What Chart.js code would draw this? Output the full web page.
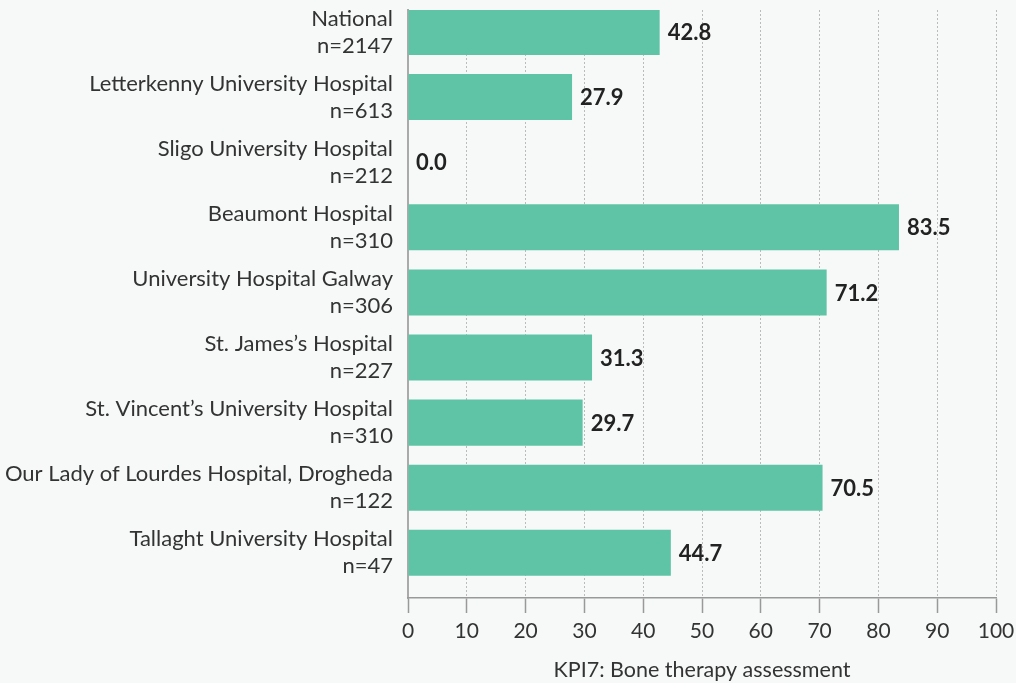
<!DOCTYPE html>
<html>
<head>
<meta charset="utf-8">
<script src="https://cdn.jsdelivr.net/npm/chart.js@4/dist/chart.umd.min.js"></script>
<style>
  html, body { margin: 0; padding: 0; background: #f6f9f8; }
  canvas { display: block; }
</style>
</head>
<body>
<canvas id="c" width="1016" height="683"></canvas>
<script>
const hospitals = [
  "National",
  "Letterkenny University Hospital",
  "Sligo University Hospital",
  "Beaumont Hospital",
  "University Hospital Galway",
  "St. James\u2019s Hospital",
  "St. Vincent\u2019s University Hospital",
  "Our Lady of Lourdes Hospital, Drogheda",
  "Tallaght University Hospital"
];
const sampleSizes = [2147, 613, 212, 310, 306, 227, 310, 122, 47];
const kpiValues = [42.8, 27.9, 0.0, 83.5, 71.2, 31.3, 29.7, 70.5, 44.7];
const xTicks = [0, 10, 20, 30, 40, 50, 60, 70, 80, 90, 100];
const axisTitle = "KPI7: Bone therapy assessment";

const FONT = "Lato, 'Open Sans', sans-serif";

const valueLabels = {
  id: 'valueLabels',
  afterDatasetsDraw(chart) {
    const ctx = chart.ctx;
    const meta = chart.getDatasetMeta(0);
    ctx.save();
    ctx.font = "bold 22px " + FONT;
    ctx.fillStyle = "#222222";
    ctx.textAlign = "left";
    ctx.textBaseline = "middle";
    meta.data.forEach((el, i) => {
      ctx.fillText(kpiValues[i].toFixed(1), el.x + 8, el.y + 1);
    });
    ctx.restore();
  }
};

new Chart(document.getElementById('c'), {
  type: 'bar',
  data: {
    datasets: [{
      data: kpiValues.map((v, i) => ({ x: v, y: i })),
      backgroundColor: '#5ec4a5',
      borderWidth: 0,
      barPercentage: 0.707,
      categoryPercentage: 1
    }]
  },
  options: {
    indexAxis: 'y',
    responsive: false,
    animation: false,
    devicePixelRatio: 1,
    layout: { padding: { top: 10, right: 20, bottom: 0, left: 0 } },
    plugins: { legend: { display: false }, tooltip: { enabled: false } },
    scales: {
      y: {
        type: 'linear',
        reverse: true,
        offset: false,
        min: -0.338,
        max: 8.694,
        afterBuildTicks: s => { s.ticks = hospitals.map((_, i) => ({ value: i })); },
        afterFit: s => { s.width = 408; s.paddingTop = 0; s.paddingBottom = 0; },
        grid: { display: false, drawTicks: false, offset: false },
        border: { display: true, color: '#aaaaaa', width: 2 },
        ticks: {
          padding: 15,
          color: '#333333',
          font: { family: FONT, size: 22, lineHeight: 1.22 },
          callback: v => [hospitals[v], 'n=' + sampleSizes[v]]
        }
      },
      x: {
        type: 'linear',
        min: 0,
        max: 100,
        afterBuildTicks: s => { s.ticks = xTicks.map(v => ({ value: v })); },
        afterFit: s => { s.height = 85; s.paddingLeft = 0; s.paddingRight = 0; },
        grid: {
          color: '#bbbbbb',
          lineWidth: 1,
          drawTicks: true,
          tickLength: 15,
          tickColor: '#999999',
          tickWidth: 1.5,
          tickBorderDash: []
        },
        border: { display: true, color: '#999999', width: 1.5, dash: [2, 2] },
        ticks: {
          padding: 6,
          color: '#333333',
          font: { family: FONT, size: 21 }
        },
        title: {
          display: true,
          text: axisTitle,
          color: '#333333',
          font: { family: FONT, size: 21.5, lineHeight: 1.2 },
          padding: { top: 0, bottom: 0 }
        }
      }
    }
  },
  plugins: [valueLabels]
});
</script>
</body>
</html>
